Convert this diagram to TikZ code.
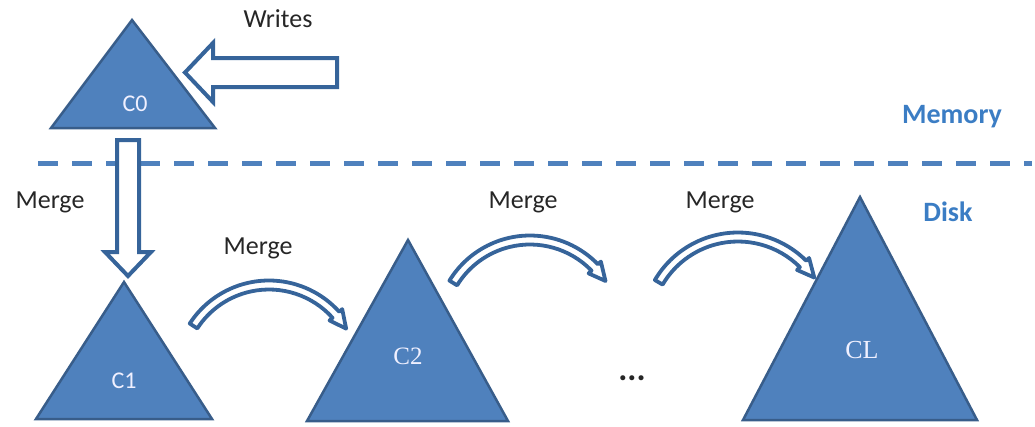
\documentclass[tikz,border=0pt]{standalone}
\usepackage{fontspec}
\setmainfont{Carlito}
\newfontfamily\serifC{Liberation Serif}
\usetikzlibrary{calc}
\definecolor{trifill}{HTML}{4F81BD}
\definecolor{triline}{HTML}{385D8A}
\definecolor{arrline}{HTML}{36649A}
\definecolor{layerblue}{HTML}{3B7DC4}
\definecolor{txt}{HTML}{262626}
\tikzset{
  tri/.style={fill=trifill, draw=triline, line width=2.5pt, line join=miter},
  blockarrow/.style={fill=white, draw=arrline, line width=4pt, line join=miter},
  curvearrow/.style={fill=white, draw=arrline, line width=3.8pt, line join=round},
  lbl/.style={text=txt, font=\fontsize{26}{29}\selectfont, inner sep=0pt},
  layer/.style={text=layerblue, font=\fontsize{28}{32}\selectfont\bfseries, inner sep=0pt},
  tlabel/.style={text=white!94!blue, inner sep=0pt},
  sepline/.style={draw=trifill, line width=5pt, dash pattern=on 20pt off 14pt}
}
\newcommand{\hollowarc}[5]{%
  \draw[curvearrow] ($(#1)+(-#3:#2+4.5)$) arc[start angle=-#3, end angle=-#4, radius=#2+4.5]
    -- ($(#1)+(-#4:#2+8.5)$) -- ($(#1)+(-#5:#2)$) -- ($(#1)+(-#4:#2-8.5)$)
    -- ($(#1)+(-#4:#2-4.5)$) arc[start angle=-#4, end angle=-#3, radius=#2-4.5] -- cycle;}
\begin{document}
\begin{tikzpicture}[x=1pt,y=-1pt]
\useasboundingbox (0,0) rectangle (1035,426);
% separator
\draw[sepline] (38,163) -- (1032,163);
\node[layer] (mem) at (952,117) {Memory};
\node[layer] (disk) at (948,212) {Disk};
% triangles
\draw[tri] (132,20) -- (215,128) -- (51,128) -- cycle;
\draw[tri] (124,282) -- (212,419) -- (36,419) -- cycle;
\draw[tri] (408,240) -- (508,421) -- (307,421) -- cycle;
\draw[tri] (860,197) -- (977,420) -- (743,420) -- cycle;
\node[tlabel, font=\fontsize{24}{26}\selectfont] (c0) at (135,104) {C0};
\node[tlabel, font=\fontsize{24}{26}\selectfont] (c1) at (124,381) {C1};
\node[tlabel, font=\serifC\fontsize{25}{27}\selectfont] (c2) at (408,356) {C2};
\node[tlabel, font=\serifC\fontsize{26}{28}\selectfont] (cl) at (862,350) {CL};
% writes arrow
\draw[blockarrow] (337,58) -- (213,58) -- (213,43) -- (185,72.5) -- (213,102) -- (213,87) -- (337,87) -- cycle;
\node[lbl] (writes) at (278,19) {Writes};
% merge down arrow
\draw[blockarrow] (117,140) -- (139,140) -- (139,252) -- (151,252) -- (128,276) -- (105,252) -- (117,252) -- cycle;
\node[lbl] (m0) at (50,202) {Merge};
% curved merge arrows
\coordinate (a1) at (269,375);
\coordinate (a2) at (530,330);
\coordinate (a3) at (738,329);
\hollowarc{a1}{90}{147}{42}{31}
\hollowarc{a2}{90}{148.5}{44}{33}
\hollowarc{a3}{92}{149.5}{45}{34}
\node[lbl] (m1) at (258,248) {Merge};
\node[lbl] (m2) at (523,202) {Merge};
\node[lbl] (m3) at (720,202) {Merge};
\node[lbl, font=\fontsize{34}{36}\selectfont\bfseries] (dots) at (632,378) {...};
\end{tikzpicture}
\end{document}
